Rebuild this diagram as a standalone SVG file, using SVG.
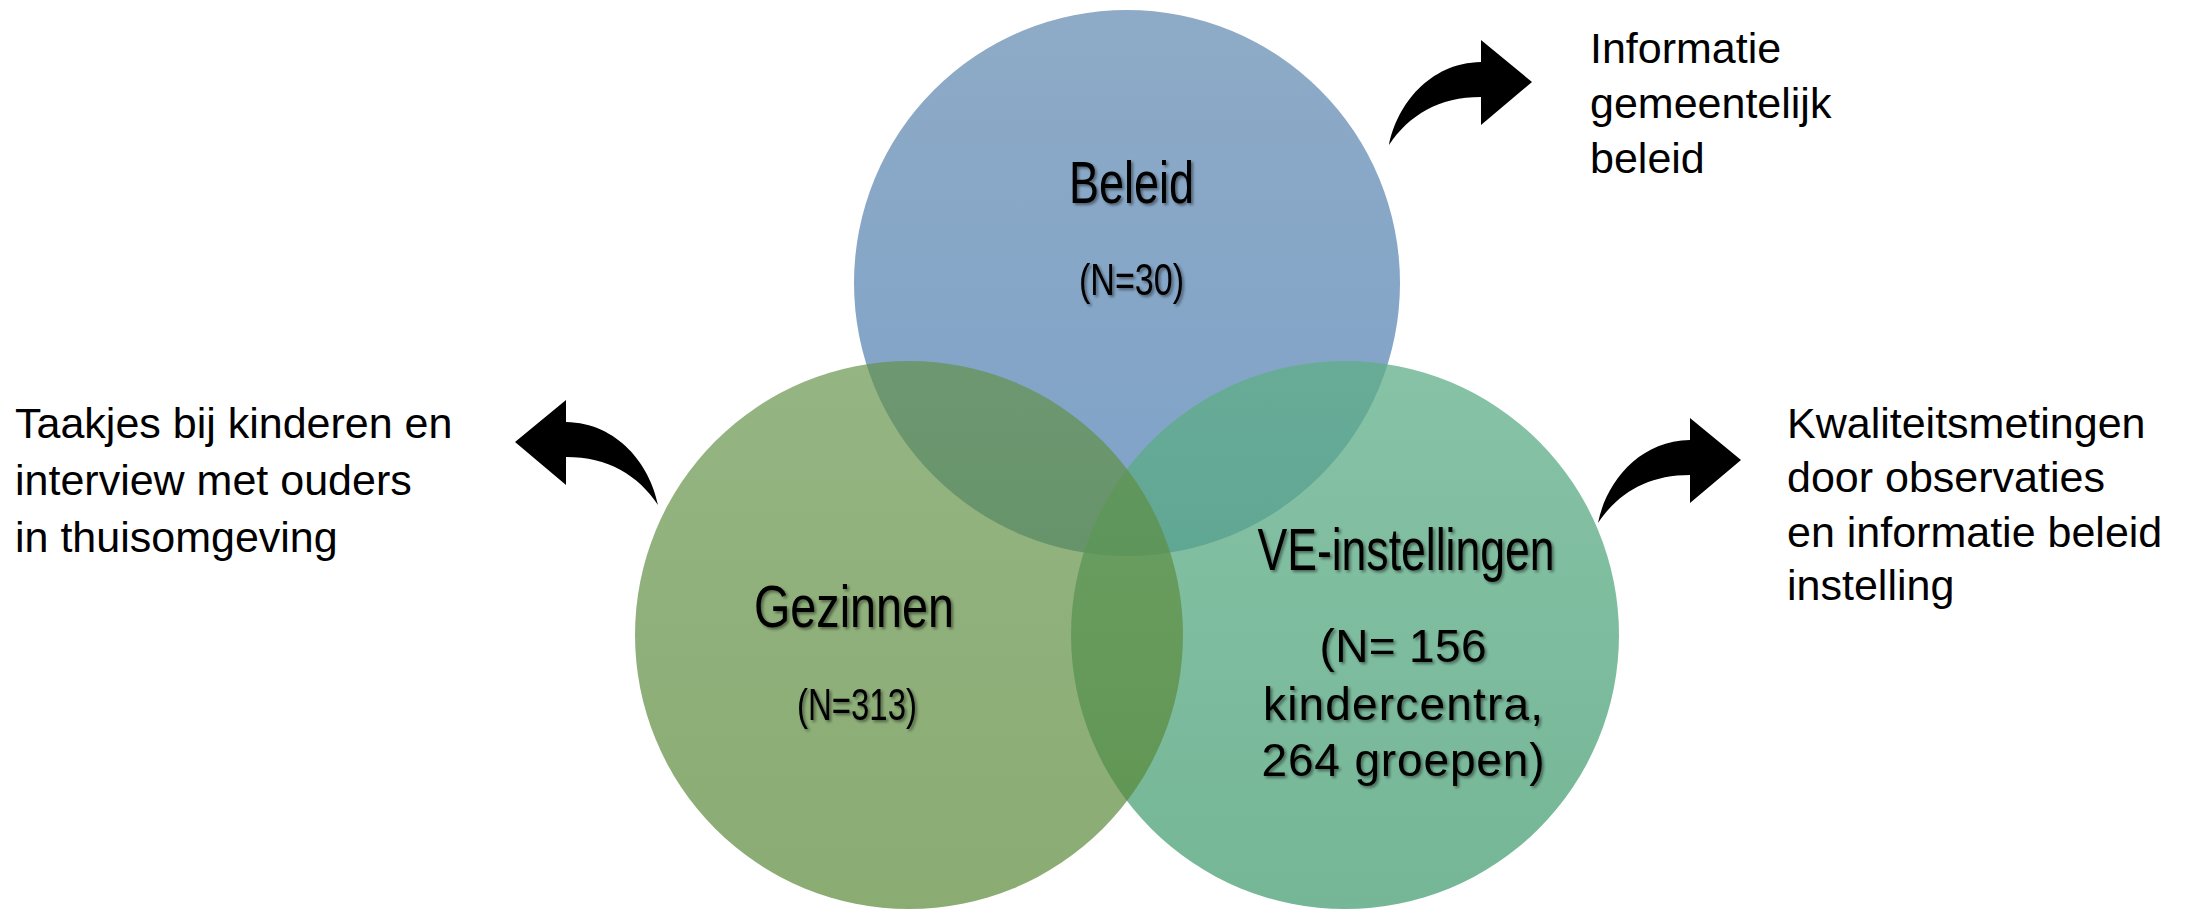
<svg xmlns="http://www.w3.org/2000/svg" xmlns:xlink="http://www.w3.org/1999/xlink" width="2185" height="909" viewBox="0 0 2185 909">
  <defs>
    <style>
      .lbl { font-family: "Liberation Sans", Arial, sans-serif; fill: #000; }
      .title { font-size: 60px; text-anchor: middle; filter: url(#tshadow); }
      .count { font-size: 45px; text-anchor: middle; filter: url(#tshadow); }
      .sub { font-size: 46px; text-anchor: middle; filter: url(#tshadow); }
      .side { font-size: 43px; }
      .arrow { fill: #000; }
    </style>
    <linearGradient id="gBlue" x1="0" y1="0" x2="0" y2="1">
      <stop offset="0" stop-color="#688eb3"/>
      <stop offset="1" stop-color="#5383b6"/>
    </linearGradient>
    <linearGradient id="gGreen" x1="0" y1="0" x2="0" y2="1">
      <stop offset="0" stop-color="#629147"/>
      <stop offset="1" stop-color="#538430"/>
    </linearGradient>
    <linearGradient id="gTeal" x1="0" y1="0" x2="0" y2="1">
      <stop offset="0" stop-color="#5fae88"/>
      <stop offset="1" stop-color="#469e74"/>
    </linearGradient>
    <filter id="tshadow" x="-20%" y="-30%" width="140%" height="160%">
      <feGaussianBlur in="SourceAlpha" stdDeviation="1.6"/>
      <feOffset dx="1.5" dy="2" result="b"/>
      <feComponentTransfer><feFuncA type="linear" slope="0.45"/></feComponentTransfer>
      <feMerge><feMergeNode/><feMergeNode in="SourceGraphic"/></feMerge>
    </filter>
    <path id="curvedArrow" d="M0,0 C8,-40 40,-82 92,-83 L92,-105 L143,-63 L92,-20 L92,-48 C50,-48 20,-30 0,0 Z"/>
  </defs>

  <rect width="2185" height="909" fill="#ffffff"/>

  <g id="beleid">
    <circle cx="1127" cy="283" r="273" fill="url(#gBlue)" fill-opacity="0.75"/>
    <text class="lbl title" x="1131.5" y="203" textLength="125" lengthAdjust="spacingAndGlyphs">Beleid</text>
    <text class="lbl count" x="1131.5" y="295" textLength="105" lengthAdjust="spacingAndGlyphs">(N=30)</text>
  </g>

  <g id="ve-instellingen">
    <circle cx="1345" cy="635" r="274" fill="url(#gTeal)" fill-opacity="0.75"/>
    <text class="lbl title" x="1406" y="570" textLength="297" lengthAdjust="spacingAndGlyphs">VE-instellingen</text>
    <text class="lbl sub" x="1403" y="662" textLength="167" lengthAdjust="spacing">(N= 156</text>
    <text class="lbl sub" x="1403" y="720" textLength="280" lengthAdjust="spacing">kindercentra,</text>
    <text class="lbl sub" x="1403" y="776" textLength="283" lengthAdjust="spacing">264 groepen)</text>
  </g>

  <g id="gezinnen">
    <circle cx="909" cy="635" r="274" fill="url(#gGreen)" fill-opacity="0.68"/>
    <text class="lbl title" x="854" y="627" textLength="200" lengthAdjust="spacingAndGlyphs">Gezinnen</text>
    <text class="lbl count" x="857" y="720" textLength="120" lengthAdjust="spacingAndGlyphs">(N=313)</text>
  </g>

  <g id="info-gemeentelijk-beleid">
    <text class="lbl side" x="1590" y="63">Informatie</text>
    <text class="lbl side" x="1590" y="118">gemeentelijk</text>
    <text class="lbl side" x="1590" y="173">beleid</text>
  </g>

  <g id="taakjes-interview">
    <text class="lbl side" x="15" y="438">Taakjes bij kinderen en</text>
    <text class="lbl side" x="15" y="495">interview met ouders</text>
    <text class="lbl side" x="15" y="552">in thuisomgeving</text>
  </g>

  <g id="kwaliteitsmetingen">
    <text class="lbl side" x="1787" y="438">Kwaliteitsmetingen</text>
    <text class="lbl side" x="1787" y="492">door observaties</text>
    <text class="lbl side" x="1787" y="547">en informatie beleid</text>
    <text class="lbl side" x="1787" y="600">instelling</text>
  </g>

  <g id="connectors">
    <use xlink:href="#curvedArrow" class="arrow" transform="translate(1389,145)"/>
    <use xlink:href="#curvedArrow" class="arrow" transform="translate(1598,523)"/>
    <use xlink:href="#curvedArrow" class="arrow" transform="translate(658,505) scale(-1,1)"/>
  </g>
</svg>
